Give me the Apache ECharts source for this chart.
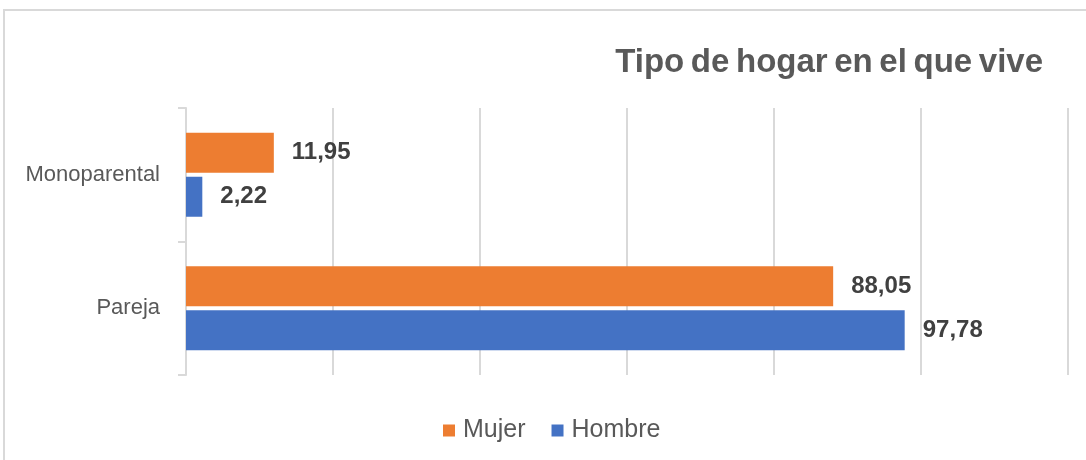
<!DOCTYPE html>
<html>
<head>
<meta charset="utf-8">
<script src="https://cdn.jsdelivr.net/npm/echarts@6/dist/echarts.min.js"></script>
<style>
  html, body { margin: 0; padding: 0; background: #fff; }
  #chart { width: 1086px; height: 460px; }
</style>
</head>
<body>
<div id="chart"></div>
<script>
const categories = ['Monoparental', 'Pareja']
const mujer = [11.95, 88.05]
const hombre = [2.22, 97.78]

const chart = echarts.init(document.getElementById('chart'))
const fmt = p => p.value.toFixed(2).replace('.', ',')
const labelStyle = {
  show: true,
  position: 'right',
  distance: 18,
  formatter: fmt,
  color: '#404040',
  fontSize: 24,
  fontWeight: 'bold',
  fontFamily: 'Liberation Sans, Arial, sans-serif'
}

chart.setOption({
  animation: false,
  textStyle: { fontFamily: 'Liberation Sans, Arial, sans-serif' },
  title: {
    // palabras muy juntas como en el original
    text: 'Tipo\u2009de\u2009hogar\u2009en\u2009el\u2009que\u2009vive',
    right: 38,
    top: 41,
    textStyle: { color: '#595959', fontSize: 33, fontWeight: 'bold' }
  },
  graphic: [{
    type: 'rect',
    shape: { x: 4, y: 10, width: 1200, height: 600 },
    style: { fill: 'none', stroke: '#d9d9d9', lineWidth: 2 },
    silent: true
  }],
  legend: {
    data: ['Mujer', 'Hombre'],
    top: 413,
    left: 438,
    itemWidth: 12,
    itemHeight: 12,
    itemGap: 26,
    icon: 'rect',
    textStyle: { color: '#595959', fontSize: 25, padding: [0, 0, 0, 3] }
  },
  grid: { left: 186, right: 18, top: 108, bottom: 85 },
  xAxis: {
    type: 'value',
    min: 0,
    max: 120,
    interval: 20,
    axisLabel: { show: false },
    axisLine: { show: false },
    axisTick: { show: false },
    splitLine: { lineStyle: { color: '#d9d9d9', width: 2 } }
  },
  yAxis: {
    type: 'category',
    inverse: true,
    data: categories,
    axisLine: { show: true, lineStyle: { color: '#d9d9d9', width: 2 } },
    axisTick: { show: true, length: 8, lineStyle: { color: '#d9d9d9', width: 2 } },
    axisLabel: { color: '#595959', fontSize: 22, margin: 26 }
  },
  series: [
    {
      name: 'Mujer',
      type: 'bar',
      data: mujer,
      barWidth: 40,
      barGap: '10%',
      itemStyle: { color: '#ED7D31' },
      label: labelStyle
    },
    {
      name: 'Hombre',
      type: 'bar',
      data: hombre,
      barWidth: 40,
      barGap: '10%',
      itemStyle: { color: '#4472C4' },
      label: labelStyle
    }
  ]
})
</script>
</body>
</html>
